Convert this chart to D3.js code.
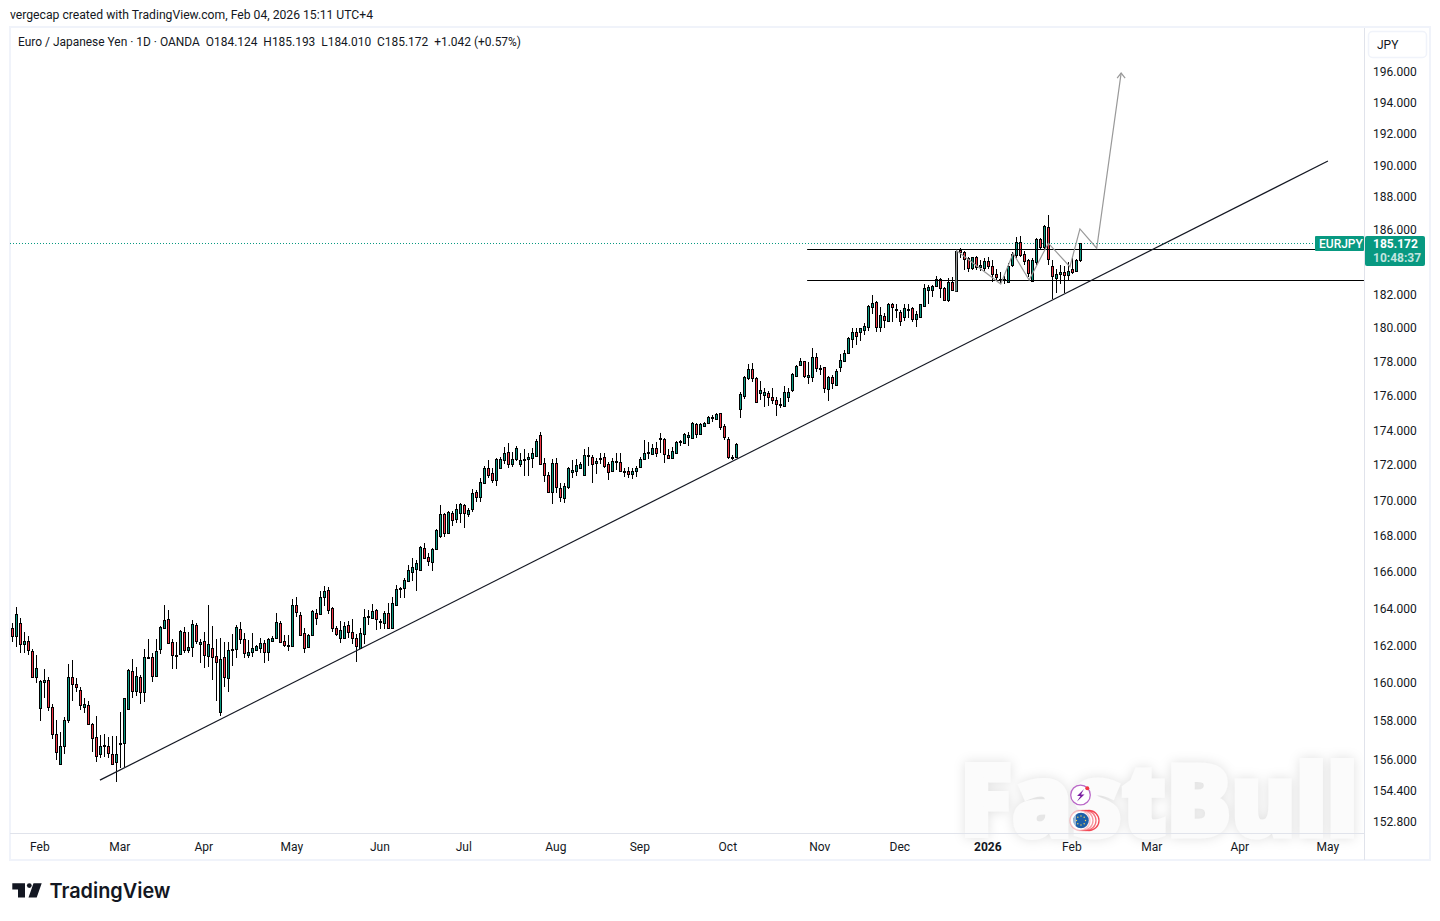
<!DOCTYPE html>
<html>
<head>
<meta charset="utf-8">
<script src="https://cdn.jsdelivr.net/npm/d3@7"></script>
<style>
  html, body { margin: 0; padding: 0; background: #fff; }
  svg { display: block; }
  text { font-family: Roboto, "Noto Sans", sans-serif; fill: #131722; }
</style>
</head>
<body>
<svg id="chart" width="1440" height="921"></svg>
<script>
// daily candles, one list per month, each row is [open, high, low, close]
const jan25 = [[162.97,163.22,162.22,162.54],[162.54,164.08,161.95,163.70],[163.22,163.49,161.60,162.11],[162.11,162.73,161.63,162.26],[162.28,162.51,161.51,161.76],[161.70,161.85,160.31,160.35],[160.35,161.51,159.99,160.79]];
const feb25 = [[158.67,160.17,158.03,160.10],[160.08,160.76,159.23,160.20],[160.20,160.31,158.55,158.72],[158.72,158.93,157.08,157.31],[157.31,158.06,155.97,156.37],[155.77,157.43,155.75,156.68],[156.68,158.22,156.30,158.04],[158.04,161.03,157.92,160.31],[160.31,161.24,159.06,159.94],[159.94,160.26,159.55,159.82],[159.67,159.82,158.58,158.83],[158.76,159.20,158.44,158.88],[158.83,159.08,157.82,157.87],[157.83,157.92,156.39,157.13],[157.15,158.27,155.88,156.21],[156.30,157.27,156.06,156.73],[156.75,157.31,156.14,156.71],[156.73,157.18,156.09,156.35],[156.31,157.25,155.77,155.78],[155.85,157.25,154.85,156.31]];
const mar25 = [[156.82,158.48,155.54,156.84],[156.84,159.23,155.63,159.20],[158.65,160.74,158.62,160.69],[160.63,161.28,159.20,159.60],[159.60,160.88,159.32,160.40],[160.31,160.44,158.93,159.55],[159.55,161.81,159.00,161.38],[161.40,162.35,161.28,161.42],[161.38,161.60,160.06,160.40],[160.38,162.35,160.35,161.70],[161.81,163.08,161.56,163.00],[162.99,164.21,162.92,163.40],[163.44,163.94,162.10,162.13],[162.19,162.35,160.78,161.49],[161.51,162.19,160.76,161.49],[161.54,162.86,161.53,162.78],[162.73,163.04,161.60,161.79],[161.79,162.76,161.60,161.94],[161.95,163.40,161.42,163.17],[163.13,163.22,162.08,162.28],[162.11,162.35,161.10,162.21]];
const apr25 = [[162.24,162.76,160.83,161.49],[161.47,164.21,160.88,162.08],[161.87,163.08,160.17,161.42],[161.44,162.35,159.08,161.15],[158.50,162.40,158.29,161.28],[161.38,162.22,159.82,160.31],[160.29,162.22,159.55,161.76],[161.81,162.64,160.92,161.85],[161.81,163.13,161.36,163.00],[162.89,163.27,162.10,162.35],[162.35,162.67,161.36,161.60],[161.53,162.31,161.33,161.65],[161.69,162.67,161.42,161.86],[161.79,162.04,161.76,161.97],[161.90,162.45,161.63,162.18],[162.18,162.31,161.06,161.69],[161.69,162.45,161.20,162.35],[162.27,162.53,162.26,162.45],[162.44,163.76,162.36,163.27],[163.22,163.36,162.18,162.22],[162.24,162.58,161.94,162.06],[162.03,162.60,161.74,162.01]];
const may25 = [[162.01,164.52,161.92,164.21],[164.19,164.63,163.54,163.85],[163.65,163.85,162.56,162.60],[162.67,162.94,161.63,161.90],[161.95,162.63,161.94,162.56],[162.56,163.94,162.53,163.89],[163.76,163.98,163.13,163.52],[163.71,164.99,163.67,164.63],[164.66,165.25,164.16,164.96],[165.03,165.21,163.72,163.94],[164.07,164.08,162.76,162.98],[162.94,163.09,162.53,162.65],[162.44,163.36,162.13,162.85],[162.44,163.31,162.42,163.07],[163.13,163.36,162.40,162.74],[162.74,163.44,162.10,162.44],[162.45,162.63,161.15,161.99],[161.88,162.94,161.86,162.69],[162.65,164.00,162.10,163.54],[163.58,163.94,163.13,163.60],[163.51,164.26,163.45,163.87],[163.92,164.00,162.85,163.47]];
const jun25 = [[163.33,163.44,162.89,163.35],[163.25,163.90,162.90,163.78],[163.76,164.30,162.94,162.96],[162.98,164.66,162.90,164.35],[164.23,165.30,164.21,165.07],[165.14,165.21,164.61,165.16],[165.12,165.67,164.61,165.56],[165.53,166.40,165.45,166.13],[166.04,166.77,165.54,166.28],[166.20,166.68,164.99,166.51],[166.15,167.46,166.13,167.40],[167.33,167.61,166.72,166.79],[166.83,167.05,166.37,166.64],[166.59,167.33,166.09,167.29],[167.27,168.39,167.24,168.35],[168.03,169.76,167.90,169.25],[169.23,169.29,167.97,168.20],[168.20,169.43,168.16,169.39],[169.33,169.43,168.57,168.91],[168.97,169.80,168.72,169.51],[169.33,169.85,168.76,169.80]];
const jul25 = [[169.74,169.82,168.48,169.29],[169.27,169.57,169.10,169.49],[169.51,170.64,169.38,170.42],[170.47,170.61,169.91,170.23],[170.23,171.26,169.91,171.04],[171.02,171.99,170.94,171.84],[171.84,172.31,171.30,171.46],[171.55,171.84,171.02,171.15],[171.15,172.41,170.85,172.35],[171.84,172.46,171.78,172.35],[172.29,173.08,172.06,172.69],[172.75,173.27,171.87,172.10],[172.08,172.75,171.93,172.35],[172.35,173.11,172.27,173.02],[172.10,172.69,171.93,172.33],[172.35,172.94,171.42,172.37],[172.35,172.69,171.42,172.46],[172.44,172.98,171.84,172.69],[172.56,173.52,172.50,173.38],[173.73,173.90,172.08,172.10],[172.12,172.41,171.08,171.46],[171.44,171.61,170.49,170.51],[170.51,172.35,169.80,172.12]];
const aug25 = [[172.12,172.41,170.45,170.79],[170.70,170.98,169.91,170.23],[170.17,170.98,169.89,170.81],[170.79,171.93,170.64,171.84],[171.65,172.31,171.30,171.72],[171.66,172.37,171.40,172.01],[171.87,172.18,171.84,172.06],[171.48,172.92,171.46,172.58],[172.56,173.04,171.99,172.60],[172.50,172.60,171.02,172.10],[172.12,172.44,171.53,172.25],[172.41,172.69,172.08,172.42],[172.46,172.69,171.84,171.99],[172.06,172.18,171.19,171.61],[171.66,172.41,171.63,172.23],[172.23,172.69,171.74,172.25],[172.18,172.69,171.65,171.66],[171.66,171.87,171.36,171.65],[171.66,171.89,171.26,171.53],[171.53,171.84,171.21,171.66],[171.66,171.99,171.32,171.84]];
const sep25 = [[171.93,172.50,171.87,172.35],[172.35,173.46,172.31,172.69],[172.73,173.36,172.35,172.75],[172.65,173.23,172.60,172.98],[172.98,173.36,172.50,172.73],[173.54,173.88,172.69,173.56],[173.50,173.56,172.16,172.63],[172.58,172.92,172.40,172.44],[172.40,173.04,172.37,172.81],[172.73,173.42,172.69,173.33],[173.38,173.46,173.11,173.40],[173.31,173.85,173.23,173.79],[173.65,173.94,173.11,173.73],[173.60,174.48,173.56,174.42],[174.36,174.46,173.56,173.81],[173.81,174.42,173.75,174.36],[174.26,174.51,174.23,174.46],[174.42,174.84,174.36,174.77],[174.75,174.90,174.51,174.77],[174.69,175.04,174.65,174.94],[175.00,175.04,174.04,174.23],[174.25,174.38,173.46,173.61]];
const oct25 = [[173.50,173.65,172.35,172.50],[172.50,172.60,172.31,172.48],[172.50,173.27,172.46,173.23],[175.23,176.27,174.75,176.13],[176.03,177.19,175.84,177.11],[177.05,177.89,176.95,177.58],[177.58,177.93,176.85,177.05],[177.05,177.15,175.66,175.68],[176.21,176.91,175.78,176.35],[176.09,176.50,175.39,176.23],[176.17,176.31,175.45,175.94],[175.94,176.46,175.53,175.80],[175.76,175.97,174.86,175.53],[175.55,175.88,175.29,175.53],[175.43,176.62,175.39,176.23],[175.94,176.50,175.68,176.25],[176.37,177.34,176.27,177.28],[177.21,177.83,177.19,177.78],[177.85,178.23,177.78,178.05],[178.05,178.09,177.05,177.21],[177.15,177.99,176.71,177.24],[177.11,178.82,176.85,178.29],[178.29,178.56,177.44,177.68]];
const nov25 = [[177.66,177.83,177.24,177.68],[177.70,177.72,176.17,176.46],[176.42,177.19,175.74,177.11],[177.11,177.24,176.40,176.75],[176.67,177.58,176.62,177.46],[177.72,178.48,177.44,178.11],[178.09,178.70,178.05,178.54],[178.56,179.49,178.52,179.43],[179.37,180.03,178.84,179.79],[179.79,180.03,179.01,179.55],[179.79,180.05,179.25,180.03],[179.91,180.33,179.61,180.15],[180.09,181.41,179.85,181.35],[181.29,182.01,180.87,181.53],[181.59,181.65,179.79,180.09],[180.09,181.29,179.79,180.81],[180.75,180.93,180.03,180.51],[180.45,181.53,180.39,181.47],[181.47,181.53,180.41,181.29],[181.18,181.47,180.63,181.16]];
const dec25 = [[180.99,181.11,180.17,180.47],[180.69,181.47,180.45,181.23],[181.16,181.47,180.63,181.18],[181.23,181.30,180.41,180.59],[180.59,181.05,180.11,180.87],[180.67,181.47,180.61,181.45],[181.37,182.68,181.35,182.41],[182.33,182.61,181.47,182.49],[182.31,182.61,181.91,182.57],[182.55,183.16,182.51,182.96],[182.96,183.02,181.81,182.41],[182.43,182.47,181.71,181.73],[181.71,183.02,181.61,182.80],[182.80,183.12,182.29,182.31],[182.27,184.76,182.25,184.69],[184.76,184.90,184.28,184.65],[184.61,184.69,183.53,184.22],[184.26,184.34,183.43,183.63],[183.65,184.34,183.53,184.31],[184.31,184.40,183.53,183.71],[183.69,184.14,183.49,183.82],[183.63,184.28,183.47,184.06]];
const jan26 = [[184.08,184.34,183.57,183.77],[183.77,184.14,182.82,183.30],[183.27,183.57,182.88,183.10],[183.00,183.39,182.72,182.98],[182.98,183.16,182.69,183.00],[182.82,183.94,182.80,183.75],[183.83,184.65,183.73,184.49],[184.45,185.57,184.24,185.27],[185.27,185.62,184.34,184.46],[184.49,184.71,183.83,184.10],[184.12,184.20,183.12,183.34],[182.88,184.24,182.86,184.16],[184.04,185.47,183.83,185.41],[185.41,185.47,184.80,184.96],[184.96,186.30,184.80,186.24],[186.16,186.92,183.83,184.22],[183.75,184.14,181.79,183.18],[183.04,183.57,182.11,183.27],[183.30,183.83,182.66,183.41],[183.41,183.77,182.11,183.24],[183.24,184.04,182.86,183.47]];
const feb26 = [[183.57,184.24,183.28,183.39],[183.47,184.18,183.45,184.14],[184.124,185.193,184.010,185.172]];

// time axis: bar number of each month label
const monthBars = [7, 27, 48, 70, 92, 113, 136, 157, 179, 202, 222, 244, 265, 285, 307, 329];
const monthLabels = ["Feb", "Mar", "Apr", "May", "Jun", "Jul", "Aug", "Sep", "Oct", "Nov", "Dec", "2026", "Feb", "Mar", "Apr", "May"];
const priceTicks = [196, 194, 192, 190, 188, 186, 184, 182, 180, 178, 176, 174, 172, 170, 168, 166, 164, 162, 160, 158, 156, 154.4, 152.8];

// drawings on the chart, [bar, price]
const trendLine = [[21.9, 154.94], [328.9, 190.29]];
const upperLevel = [[198.7, 184.82], [337.9, 184.82]];
const lowerLevel = [[198.7, 182.92], [337.9, 182.92]];
const projection = [[235.9, 182.22], [236.1, 184.71], [247.1, 182.68], [250.2, 184.55], [254.2, 182.92], [259, 185.17], [264.4, 183.73], [266.9, 186.05], [271.1, 184.86], [277.2, 195.93]];
const lastPrice = 185.172;

const candles = [].concat(jan25, feb25, mar25, apr25, may25, jun25, jul25, aug25, sep25, oct25, nov25, dec25, jan26, feb26)
  .map((d, i) => ({ i: i, open: d[0], high: d[1], low: d[2], close: d[3] }));

const x = d3.scaleLinear().domain([0, 329]).range([12.33, 1328.33]);
const y = d3.scaleLog().domain([196, 152.8]).range([72, 822]);

const svg = d3.select("#chart");
const line = d3.line().x(d => x(d[0])).y(d => y(d[1]));
const teal = "#089981", red = "#f23645", grey = "#999999";

// frame
svg.append("rect").attr("x", 10).attr("y", 27).attr("width", 1420).attr("height", 833)
  .attr("fill", "#fff").attr("stroke", "#f0f3fa").attr("stroke-width", 2);

// watermark sits under everything
svg.append("text").text("FastBull")
  .attr("x", 960).attr("y", 836)
  .attr("textLength", 398).attr("lengthAdjust", "spacingAndGlyphs")
  .style("font-family", "'Open Sans'").style("font-weight", 800).style("font-size", "100px")
  .style("fill", "#fbfbfb").style("stroke", "#fbfbfb").style("stroke-width", 5)
  .style("filter", "drop-shadow(0 0 6px rgba(0,0,0,0.12))");

svg.append("line").attr("x1", 1364.5).attr("x2", 1364.5).attr("y1", 28).attr("y2", 860).attr("stroke", "#e0e3eb");
svg.append("line").attr("x1", 10).attr("x2", 1364).attr("y1", 833.5).attr("y2", 833.5).attr("stroke", "#e0e3eb");

// last price dotted line
svg.append("line").attr("x1", 10).attr("x2", 1315)
  .attr("y1", Math.round(y(lastPrice)) + 0.5).attr("y2", Math.round(y(lastPrice)) + 0.5)
  .attr("stroke", teal).attr("stroke-width", 1).attr("stroke-dasharray", "1 2");

// candles
const g = svg.append("g").attr("shape-rendering", "crispEdges");
const snap = d => Math.floor(x(d.i)) + 0.5;
g.selectAll(".wick").data(candles).enter().append("line")
  .attr("class", "wick")
  .attr("x1", snap).attr("x2", snap)
  .attr("y1", d => Math.round(y(d.high)))
  .attr("y2", d => Math.round(y(d.low)))
  .attr("stroke", "#000");
g.selectAll(".body").data(candles).enter().append("rect")
  .attr("class", "body")
  .attr("x", d => snap(d) - 1)
  .attr("width", 2)
  .attr("y", d => Math.round(y(Math.max(d.open, d.close))) + 0.5)
  .attr("height", d => Math.max(1, Math.round(y(Math.min(d.open, d.close))) - Math.round(y(Math.max(d.open, d.close)))))
  .attr("fill", d => d.close >= d.open ? teal : red)
  .attr("stroke", "#000");

// drawings
[upperLevel, lowerLevel].forEach(l => {
  svg.append("line")
    .attr("x1", x(l[0][0])).attr("x2", x(l[1][0]))
    .attr("y1", Math.round(y(l[0][1])) + 0.5).attr("y2", Math.round(y(l[1][1])) + 0.5)
    .attr("stroke", "#000");
});
svg.append("path").attr("d", line(trendLine)).attr("fill", "none").attr("stroke", "#131722").attr("stroke-width", 1.2);
svg.append("path").attr("d", line(projection)).attr("fill", "none").attr("stroke", grey).attr("stroke-width", 1.2);
const tip = projection[projection.length - 1];
svg.append("path")
  .attr("d", `M${x(tip[0]) - 4},${y(tip[1]) + 5}L${x(tip[0])},${y(tip[1])}L${x(tip[0]) + 4},${y(tip[1]) + 5}`)
  .attr("fill", "none").attr("stroke", grey).attr("stroke-width", 1.2);

// axes
const xAxis = d3.axisBottom(x).tickValues(monthBars).tickSize(0).tickPadding(0)
  .tickFormat((d, i) => monthLabels[i]);
const gx = svg.append("g").attr("transform", "translate(-1,842)").call(xAxis);
gx.select(".domain").remove();
gx.selectAll("text").style("font-size", "12px").style("font-family", "Roboto")
  .style("font-weight", (d, i) => monthLabels[i] === "2026" ? 700 : 400);

const yAxis = d3.axisRight(y).tickValues(priceTicks).tickSize(0).tickPadding(0).tickFormat(d3.format(".3f"));
const gy = svg.append("g").attr("transform", "translate(1373,-0.4)").call(yAxis);
gy.select(".domain").remove();
gy.selectAll("text").style("font-size", "12px").style("font-family", "Roboto");

// currency button
svg.append("rect").attr("x", 1368.5).attr("y", 31.5).attr("width", 58).attr("height", 26).attr("rx", 4)
  .attr("fill", "#fff").attr("stroke", "#f0f3fa").attr("stroke-width", 1.5);
svg.append("text").text("JPY").attr("x", 1377).attr("y", 48.5).style("font-size", "12px");

// price tags
const py = Math.round(y(lastPrice));
svg.append("rect").attr("x", 1315).attr("y", py - 7).attr("width", 49).attr("height", 15).attr("rx", 1).attr("fill", teal);
svg.append("text").text("EURJPY").attr("x", 1319).attr("y", py + 4.5)
  .style("fill", "#fff").style("font-size", "12px").style("font-weight", 500);
svg.append("rect").attr("x", 1365).attr("y", py - 7).attr("width", 60).attr("height", 30).attr("rx", 2).attr("fill", teal);
svg.append("text").text(d3.format(".3f")(lastPrice)).attr("x", 1373).attr("y", py + 4.5)
  .style("fill", "#fff").style("font-size", "12px").style("font-weight", 700);
svg.append("text").text("10:48:37").attr("x", 1373).attr("y", py + 18.5)
  .style("fill", "#fff").style("fill-opacity", 0.75).style("font-size", "12px").style("font-weight", 700);

// header texts
svg.append("text").text("vergecap created with TradingView.com, Feb 04, 2026 15:11 UTC+4")
  .attr("x", 10).attr("y", 19).attr("textLength", 363).attr("lengthAdjust", "spacingAndGlyphs").style("font-size", "12px");
svg.append("text").text("Euro / Japanese Yen · 1D · OANDA  O184.124  H185.193  L184.010  C185.172  +1.042 (+0.57%)")
  .attr("x", 18).attr("y", 46).attr("textLength", 503).attr("lengthAdjust", "spacingAndGlyphs")
  .attr("xml:space", "preserve").style("white-space", "pre").style("font-size", "12px");

// event icons
const ev = svg.append("g");
ev.append("circle").attr("cx", 1080.5).attr("cy", 795).attr("r", 9.8).attr("fill", "#fff").attr("stroke", "#ba68c8").attr("stroke-width", 1.3);
ev.append("path").attr("d", "M1084,789L1077,796H1080.5L1077,801.5L1084.5,794.5H1081Z").attr("fill", "#7b1fa2");
ev.append("circle").attr("cx", 1087.3).attr("cy", 788.3).attr("r", 2).attr("fill", "#f23645");
[1080, 1083, 1086, 1089].forEach((cx, i) => {
  ev.append("circle").attr("cx", cx).attr("cy", 820.5).attr("r", 10).attr("fill", "#fff");
});
[1089, 1086, 1083, 1080].forEach((cx, i) => {
  ev.append("circle").attr("cx", cx).attr("cy", 820.5).attr("r", 10)
    .attr("fill", "#fff").attr("stroke", "#f23645").attr("stroke-width", 1.3).attr("stroke-opacity", 0.9 - i * 0.2);
});
ev.append("circle").attr("cx", 1081).attr("cy", 820.5).attr("r", 7.8).attr("fill", "#1f5fa8");
ev.append("path").attr("d", "M1076,814.5A7.8,7.8,0,0,0,1076,826.5Z").attr("fill", "#fff").attr("fill-opacity", 0.55);
d3.range(8).forEach(k => {
  ev.append("circle").attr("cx", 1081 + 4.5 * Math.cos(k * Math.PI / 4)).attr("cy", 820.5 + 4.5 * Math.sin(k * Math.PI / 4))
    .attr("r", 0.7).attr("fill", "#ffd54f");
});

// logo
svg.append("path").attr("d", "M12.3,883.3H25V897.5H18V889.5H12.3Z M33.5,883.3H41.7L36.7,897.5H28.5Z").attr("fill", "#131722");
svg.append("circle").attr("cx", 29.3).attr("cy", 885.6).attr("r", 2.4).attr("fill", "#131722");
svg.append("text").text("TradingView").attr("x", 49.5).attr("y", 898)
  .attr("textLength", 121).attr("lengthAdjust", "spacingAndGlyphs")
  .style("font-family", "Inter").style("font-weight", 600).style("font-size", "20.5px");
</script>
</body>
</html>
